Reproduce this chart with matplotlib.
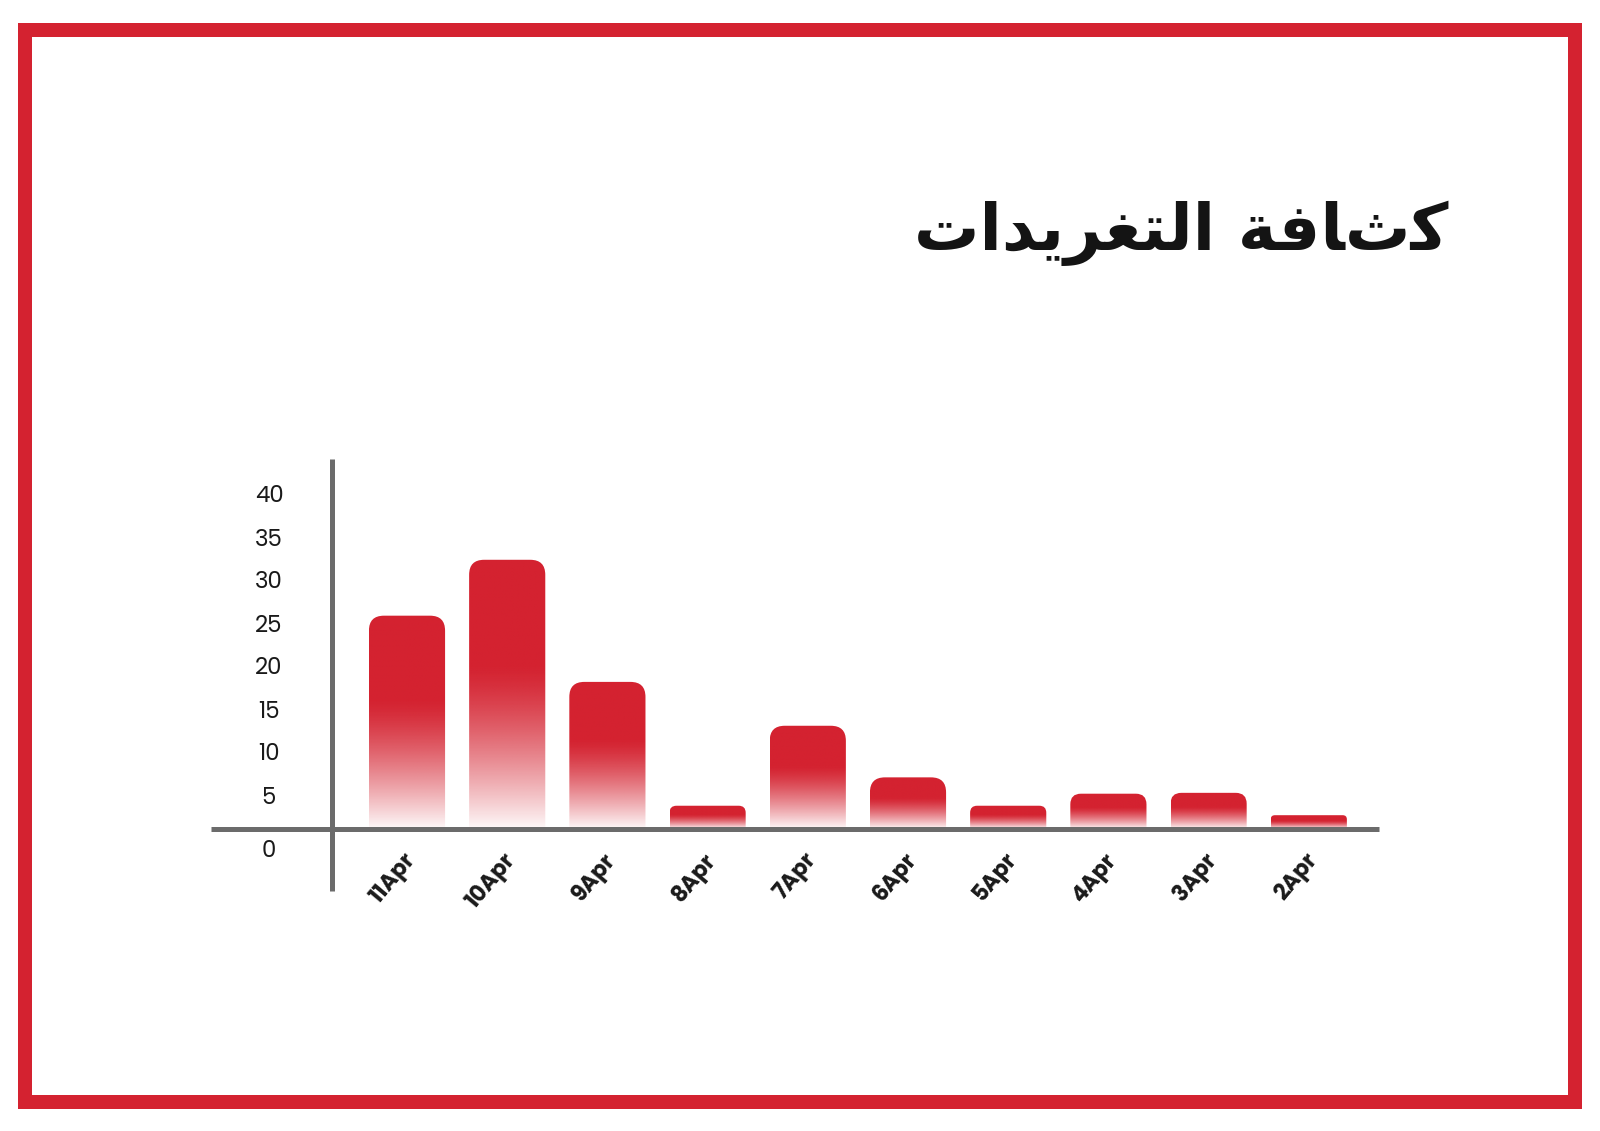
import numpy as np
import matplotlib
matplotlib.use("Agg")
import matplotlib.pyplot as plt
from matplotlib.patches import FancyBboxPatch, Rectangle
from matplotlib.lines import Line2D

# ---- data ----
categories = ["11Apr", "10Apr", "9Apr", "8Apr", "7Apr", "6Apr", "5Apr", "4Apr", "3Apr", "2Apr"]
values = [26.2, 32.7, 18.5, 4.1, 13.4, 7.4, 4.1, 5.5, 5.6, 3.0]
y_ticks = [0, 5, 10, 15, 20, 25, 30, 35, 40]
# title "كثافة التغريدات" written with Arabic presentation forms in visual order
# (the medial form of ث is not in any installed font, so its base letter is used)
title_text = "\uFE95\uFE8D\uFEAA\uFEF3\uFEAE\uFED0\uFE98\uFEDF\uFE8D \uFE94\uFED3\uFE8E\u062B\uFEDB"

RED = "#D42230"
GRAY = "#6B6B6B"
W, H = 1600, 1131
DPI = 100

fig = plt.figure(figsize=(W / DPI, H / DPI), dpi=DPI)
fig.patch.set_facecolor("white")

# red frame
fig.add_artist(Rectangle((25 / W, (H - 1101.5) / H), (1574.5 - 25) / W, (1101.5 - 29.5) / H,
                         transform=fig.transFigure, fill=False, edgecolor=RED,
                         linewidth=14 * 72 / DPI, joinstyle="miter"))

# title
fig.text(1449 / W, (H - 250) / H, title_text, ha="right", va="baseline",
         fontsize=47, fontweight="bold", color="#141414",
         family=["DejaVu Sans"])

# axes region in pixels
px_left, px_right = 211, 1379
px_top, px_bottom = 459, 891
ax = fig.add_axes([px_left / W, (H - px_bottom) / H, (px_right - px_left) / W, (px_bottom - px_top) / H])
ax.set_axis_off()

xpx0, xstep = 407.0, 100.2
ypx0, ystep = 841.0, 8.6
xlim = ((px_left - xpx0) / xstep, (px_right - xpx0) / xstep)
ylim = ((ypx0 - px_bottom) / ystep, (ypx0 - px_top) / ystep)
base = (ypx0 - 829) / ystep
x_vaxis = (332 - xpx0) / xstep

x = np.arange(len(categories))
bars = ax.bar(x, np.array(values) - base, bottom=base, width=0.76, alpha=0)

aspect = xstep / ystep
grad_n = 256
t = np.linspace(0, 1, grad_n)
alpha = np.where(t < 0.40, 1.0, 1.0 - ((t - 0.40) / 0.60) ** 1.3 * 0.97)
rgb = matplotlib.colors.to_rgb(RED)
img = np.zeros((grad_n, 1, 4))
img[:, 0, 0], img[:, 0, 1], img[:, 0, 2] = rgb
img[:, 0, 3] = alpha

for b in bars:
    x0, y0 = b.get_x(), b.get_y()
    w, h = b.get_width(), b.get_height()
    hpx = h * ystep
    rpx = min(15.0, 0.3 * hpx)
    r = rpx / xstep
    clip = FancyBboxPatch((x0, y0 - 2 * rpx / ystep), w, h + 2 * rpx / ystep,
                          boxstyle=f"round,pad=0,rounding_size={r}",
                          mutation_aspect=aspect, transform=ax.transData,
                          facecolor="none", edgecolor="none")
    ax.add_patch(clip)
    im = ax.imshow(img, extent=[x0, x0 + w, y0, y0 + h], aspect="auto",
                   origin="upper", interpolation="bilinear", zorder=2)
    im.set_clip_path(clip)

# axis lines
ax.add_line(Line2D([xlim[0], xlim[1]], [base, base], color=GRAY, lw=5 * 72 / DPI,
                   solid_capstyle="butt", zorder=3, clip_on=False))
ax.add_line(Line2D([x_vaxis, x_vaxis], [ylim[0], ylim[1]], color=GRAY, lw=5 * 72 / DPI,
                   solid_capstyle="butt", zorder=3, clip_on=False))

# y tick labels
x_lab = (269 - xpx0) / xstep
for v in y_ticks:
    yy = v if v != 0 else v - 1.2
    ax.text(x_lab, yy, str(v), ha="center", va="center", fontsize=16.5,
            family=["Poppins", "DejaVu Sans"], color="#1a1a1a")

# x labels
for i, c in enumerate(categories):
    ax.text(i - 0.04, (ypx0 - 849) / ystep, c, rotation=50, rotation_mode="anchor",
            ha="right", va="top", fontsize=16, fontweight="bold",
            family=["Poppins", "DejaVu Sans"], color="#1a1a1a")

ax.set_xlim(*xlim)
ax.set_ylim(*ylim)

fig.savefig("out.png", dpi=DPI, facecolor="white")
